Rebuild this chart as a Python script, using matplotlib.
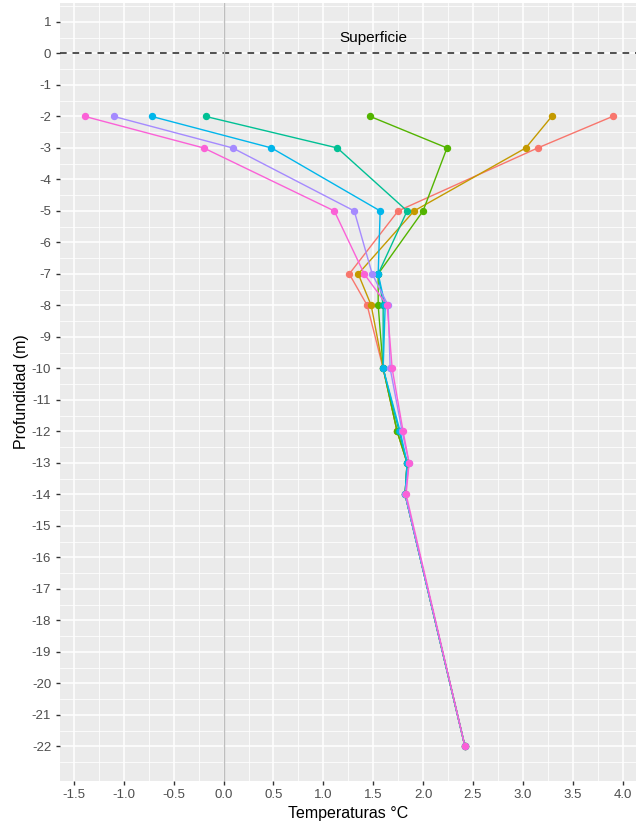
import matplotlib
matplotlib.use("Agg")
import matplotlib.pyplot as plt
from matplotlib.ticker import MultipleLocator, FormatStrFormatter

plt.rcParams['font.family'] = ['Liberation Sans', 'DejaVu Sans']
plt.rcParams['axes.unicode_minus'] = False

# depths sampled (m)
depths = [-2, -3, -5, -7, -8, -10, -12, -13, -14, -22]

# temperature profiles, one per series
temp_1 = [3.90, 3.15, 1.75, 1.26, 1.44, 1.60, 1.74, 1.84, 1.82, 2.42]
temp_2 = [3.29, 3.03, 1.91, 1.35, 1.48, 1.60, 1.74, 1.84, 1.82, 2.42]
temp_3 = [1.47, 2.24, 2.00, 1.55, 1.55, 1.60, 1.74, 1.84, 1.82, 2.42]
temp_4 = [-0.18, 1.14, 1.84, 1.55, 1.60, 1.60, 1.76, 1.84, 1.82, 2.42]
temp_5 = [-0.72, 0.48, 1.57, 1.55, 1.62, 1.60, 1.77, 1.84, 1.82, 2.42]
temp_6 = [-1.10, 0.09, 1.31, 1.49, 1.65, 1.67, 1.79, 1.86, 1.82, 2.42]
temp_7 = [-1.39, -0.20, 1.11, 1.41, 1.64, 1.69, 1.80, 1.86, 1.83, 2.42]

profiles = [temp_1, temp_2, temp_3, temp_4, temp_5, temp_6, temp_7]
# ggplot default hue palette for 7 groups
colours = ['#F8766D', '#C49A00', '#53B400', '#00C094', '#00B6EB', '#A58AFF', '#FB61D7']

y_ticks = list(range(-22, 2))

fig = plt.figure(figsize=(6.36, 8.25), dpi=100)
ax = fig.add_axes([0.0936, 0.0533, 0.9064, 0.943])
ax.set_facecolor('#EBEBEB')
for s in ax.spines.values():
    s.set_visible(False)

ax.set_xlim(-1.645, 4.135)
ax.set_ylim(-23.1, 1.6)

ax.xaxis.set_major_locator(MultipleLocator(0.5))
ax.xaxis.set_minor_locator(MultipleLocator(0.25))
ax.xaxis.set_major_formatter(FormatStrFormatter('%.1f'))
ax.set_yticks(y_ticks)
ax.set_yticks([t - 0.5 for t in y_ticks] + [1.5], minor=True)

ax.grid(which='major', color='white', linewidth=1.1)
ax.grid(which='minor', color='white', linewidth=0.55)
ax.set_axisbelow(True)

ax.tick_params(which='major', length=3, width=1, color='#333333',
               labelcolor='#4D4D4D', labelsize=9.5, pad=3)
ax.tick_params(which='minor', length=0)

# reference lines: water surface and zero degrees
ax.axhline(0, color='#333333', linestyle=(0, (4, 3.5)), linewidth=1.2, zorder=2)
ax.axvline(0, color='#BEBEBE', linewidth=1.0, zorder=2)
ax.text(1.5, 0.5, 'Superficie', ha='center', va='center', fontsize=11, color='black')

for temps, col in zip(profiles, colours):
    ax.plot(temps, depths, color=col, linewidth=1.0, zorder=3)
for temps, col in zip(profiles, colours):
    ax.plot(temps, depths, linestyle='none', marker='o', markersize=4.3,
            color=col, zorder=4)

ax.set_xlabel('Temperaturas °C', fontsize=11.5, labelpad=3)
ax.set_ylabel('Profundidad (m)', fontsize=11.5, labelpad=2)

fig.savefig('out.png', dpi=100)
